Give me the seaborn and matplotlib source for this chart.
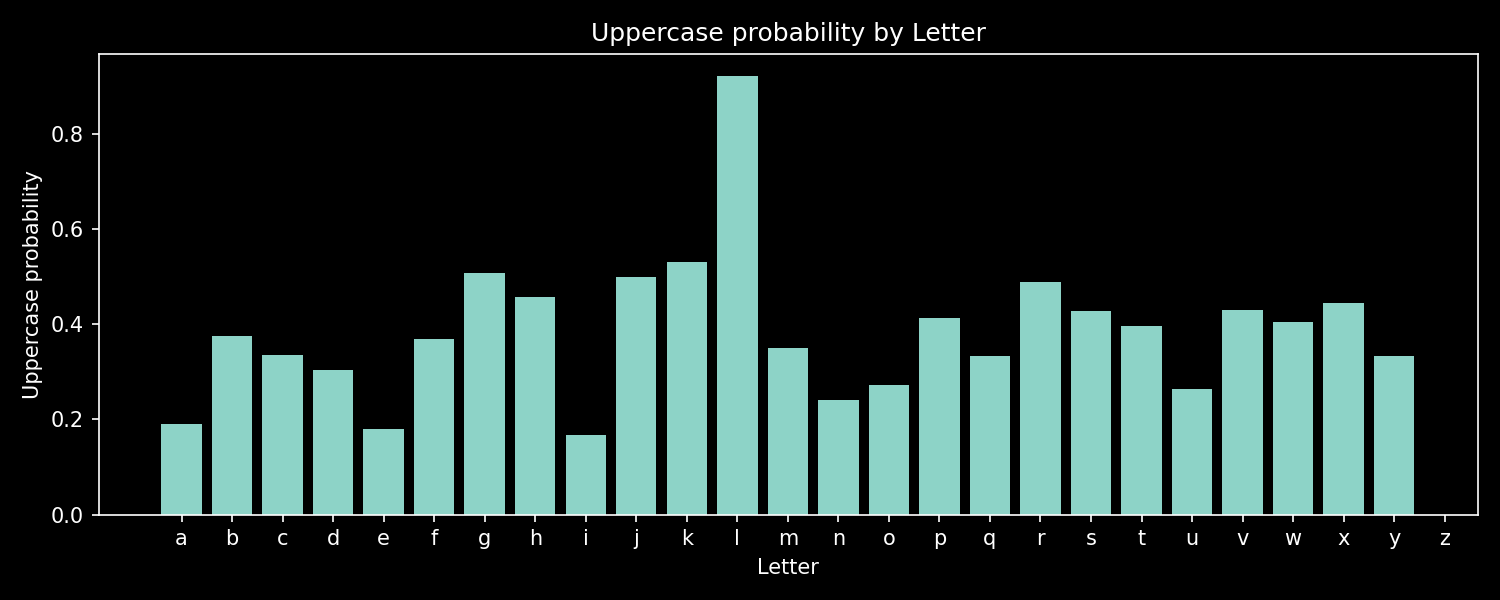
import matplotlib
matplotlib.use("Agg")
import matplotlib.pyplot as plt
import seaborn as sns
import pandas as pd

plt.style.use('dark_background')

letters = list("abcdefghijklmnopqrstuvwxyz")
upper_prob = [0.191, 0.376, 0.335, 0.303, 0.180, 0.369, 0.507, 0.456, 0.168,
              0.499, 0.530, 0.921, 0.350, 0.240, 0.272, 0.412, 0.333, 0.488,
              0.427, 0.397, 0.263, 0.429, 0.405, 0.444, 0.333, 0.0]

df = pd.DataFrame({'Letter': letters, 'Uppercase probability': upper_prob})

fig, ax = plt.subplots(figsize=(10, 4), dpi=150)
sns.barplot(data=df, x='Letter', y='Uppercase probability', color='#8dd3c7',
            saturation=1, width=0.8, ax=ax)
ax.set_xlim(-1.64, 25.65)
ax.set_title('Uppercase probability by Letter')
ax.set_xlabel('Letter')
ax.set_ylabel('Uppercase probability')
plt.tight_layout()
plt.savefig('out.png')
